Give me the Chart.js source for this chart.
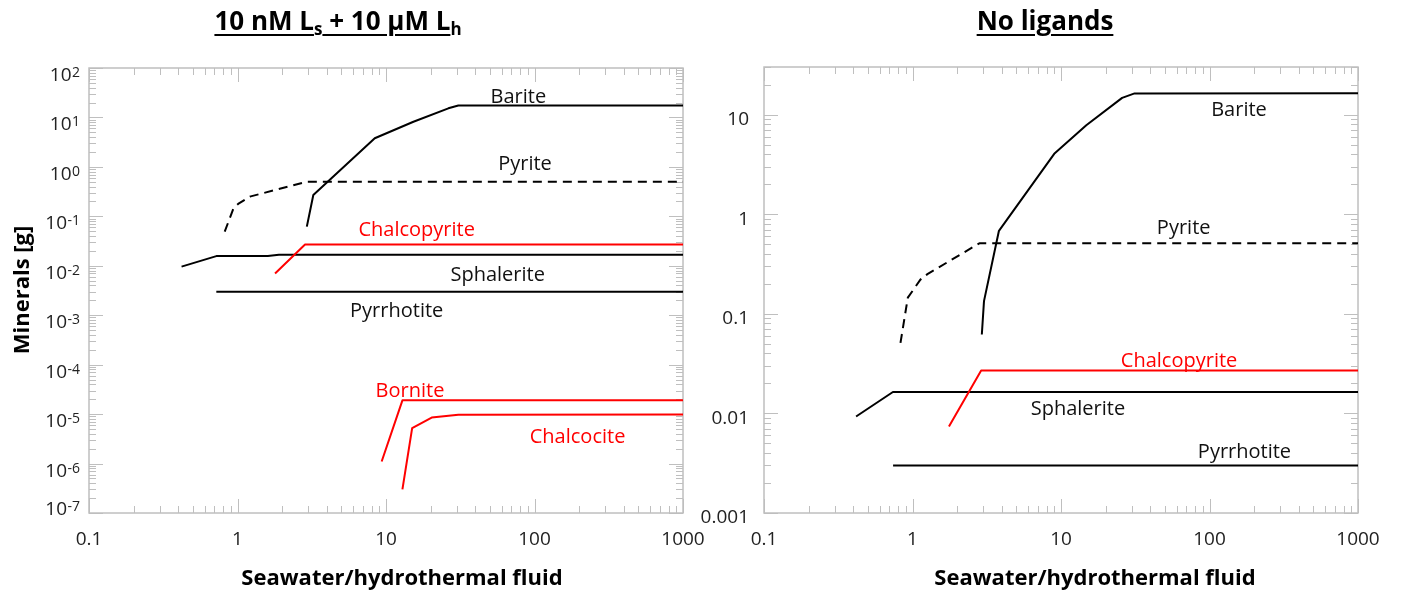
<!DOCTYPE html>
<html>
<head>
<meta charset="utf-8">
<script src="https://cdn.jsdelivr.net/npm/chart.js@4.4.1/dist/chart.umd.min.js"></script>
<style>
html,body{margin:0;padding:0;background:#fff;}
#wrap{position:relative;width:1406px;height:596px;overflow:hidden;background:#fff;}
canvas{position:absolute;left:0;top:0;}
.ptitle{position:absolute;top:7px;line-height:26px;font-family:'Open Sans',sans-serif;font-weight:700;font-size:26px;color:#000;
  text-decoration:underline;text-decoration-thickness:2px;text-underline-offset:4px;white-space:nowrap;transform:translateX(-50%);}
.ptitle sub{font-size:17px;vertical-align:-5px;line-height:0;}
</style>
</head>
<body>
<div id="wrap">
  <canvas id="c1" width="1406" height="596"></canvas>
  <canvas id="c2" width="1406" height="596"></canvas>
  <div class="ptitle" style="left:338px;">10 nM L<sub>s</sub> + 10 µM L<sub>h</sub></div>
  <div class="ptitle" style="left:1045px;">No ligands</div>
</div>
<script>
// ---------- DATA ----------
// Left panel: 10 nM Ls + 10 µM Lh
const leftBariteX        = [2.93, 3.24, 8.4, 15.3, 26.3, 30.7, 1000];
const leftBariteY        = [0.062, 0.27, 3.8, 8.2, 15.3, 17.4, 17.4];
const leftPyriteX        = [0.82, 0.94, 1.01, 1.21, 2.92, 1000];
const leftPyriteY        = [0.049, 0.145, 0.178, 0.25, 0.5, 0.5];
const leftChalcopyriteX  = [1.79, 2.85, 1000];
const leftChalcopyriteY  = [0.007, 0.027, 0.027];
const leftSphaleriteX    = [0.42, 0.72, 1.6, 1.9, 1000];
const leftSphaleriteY    = [0.0096, 0.0157, 0.0158, 0.0168, 0.0168];
const leftPyrrhotiteX    = [0.72, 1000];
const leftPyrrhotiteY    = [0.003, 0.003];
const leftBorniteX       = [9.35, 12.9, 1000];
const leftBorniteY       = [1.1e-6, 1.9e-5, 1.9e-5];
const leftChalcociteX    = [12.9, 15.0, 20.3, 30.7, 1000];
const leftChalcociteY    = [3.0e-7, 5.2e-6, 8.5e-6, 9.7e-6, 9.8e-6];

// Right panel: No ligands
const rightBariteX       = [2.93, 3.03, 3.82, 9.0, 14.8, 25.8, 31.3, 1000];
const rightBariteY       = [0.062, 0.134, 0.68, 4.03, 7.8, 14.7, 16.3, 16.4];
const rightPyriteX       = [0.83, 0.93, 1.13, 1.26, 2.82, 1000];
const rightPyriteY       = [0.051, 0.145, 0.22, 0.25, 0.51, 0.51];
const rightChalcopyriteX = [1.76, 2.9, 1000];
const rightChalcopyriteY = [0.0074, 0.027, 0.027];
const rightSphaleriteX   = [0.417, 0.738, 1000];
const rightSphaleriteY   = [0.0093, 0.0164, 0.0164];
const rightPyrrhotiteX   = [0.74, 1000];
const rightPyrrhotiteY   = [0.003, 0.003];

// Tick labels
const xTickValues      = [0.1, 1, 10, 100, 1000];
const xTickLabels      = ['0.1', '1', '10', '100', '1000'];
const leftYExponents   = [2, 1, 0, -1, -2, -3, -4, -5, -6, -7];
const rightYTickValues = [0.001, 0.01, 0.1, 1, 10];
const rightYTickLabels = ['0.001', '0.01', '0.1', '1', '10'];

// Axis titles
const xAxisTitle = 'Seawater/hydrothermal fluid';
const yAxisTitle = 'Minerals [g]';

// Curve labels (placed in data coordinates)
const leftLabelNames  = ['Barite', 'Pyrite', 'Chalcopyrite', 'Sphalerite', 'Pyrrhotite', 'Bornite', 'Chalcocite'];
const leftLabelX      = [77.8, 86.3, 16.1, 56.5, 11.8, 14.5, 195];
const leftLabelY      = [25.5, 1.14, 0.051, 0.0065, 0.00118, 2.84e-5, 3.39e-6];
const leftLabelRed    = [false, false, true, false, false, true, true];
const rightLabelNames = ['Barite', 'Pyrite', 'Chalcopyrite', 'Sphalerite', 'Pyrrhotite'];
const rightLabelX     = [158, 67, 62.4, 13.0, 172];
const rightLabelY     = [11.0, 0.72, 0.0334, 0.0109, 0.00408];
const rightLabelRed   = [false, false, true, false, false];

// ---------- STYLE ----------
const BLACK = '#000000';
const RED = '#ff0000';
const AXIS_GRAY = '#bfbfbf';
const FONT = '"Open Sans", "Liberation Sans", sans-serif';

function pts(xs, ys) { return xs.map((x, i) => ({ x: x, y: ys[i] })); }
function ds(xs, ys, color, dashed) {
  return {
    data: pts(xs, ys), borderColor: color, backgroundColor: color,
    borderWidth: 2, pointRadius: 0, tension: 0, fill: false,
    borderDash: dashed ? [9, 6] : [], borderCapStyle: 'butt', borderJoinStyle: 'round'
  };
}

// Frame + inward tick marks, curve labels, axis titles
const decorPlugin = {
  id: 'decor',
  beforeDatasetsDraw(chart) {
    const ctx = chart.ctx, a = chart.chartArea;
    const xs = chart.scales.x, ys = chart.scales.y;
    ctx.save();
    ctx.strokeStyle = AXIS_GRAY;
    ctx.lineWidth = 1;
    ctx.beginPath();
    const minorVals = (s) => {
      const out = [];
      for (let n = Math.floor(Math.log10(s.min)) - 1; n <= Math.ceil(Math.log10(s.max)); n++) {
        for (let k = 1; k <= 9; k++) {
          const v = k * Math.pow(10, n);
          if (v >= s.min * 0.9999 && v <= s.max * 1.0001) out.push({ v: v, major: k === 1 });
        }
      }
      return out;
    };
    minorVals(xs).forEach(t => {
      const px = Math.round(xs.getPixelForValue(t.v)) + 0.5;
      const len = t.major ? 14 : 7;
      ctx.moveTo(px, a.bottom); ctx.lineTo(px, a.bottom - len);
      ctx.moveTo(px, a.top); ctx.lineTo(px, a.top + len);
    });
    minorVals(ys).forEach(t => {
      const py = Math.round(ys.getPixelForValue(t.v)) + 0.5;
      const len = t.major ? 14 : 7;
      ctx.moveTo(a.left, py); ctx.lineTo(a.left + len, py);
      ctx.moveTo(a.right, py); ctx.lineTo(a.right - len, py);
    });
    ctx.stroke();
    ctx.lineWidth = 1.5;
    ctx.strokeRect(a.left, a.top, a.right - a.left, a.bottom - a.top);
    ctx.restore();
  },
  afterDraw(chart) {
    const o = chart.options.plugins.decor;
    const ctx = chart.ctx, xs = chart.scales.x, ys = chart.scales.y;
    ctx.save();
    // curve labels
    ctx.font = '20px ' + FONT;
    ctx.textAlign = 'center';
    ctx.textBaseline = 'middle';
    o.names.forEach((n, i) => {
      ctx.fillStyle = o.red[i] ? RED : '#111';
      ctx.fillText(n, xs.getPixelForValue(o.lx[i]), ys.getPixelForValue(o.ly[i]));
    });
    // x axis title
    ctx.fillStyle = '#000';
    ctx.font = 'bold 22px ' + FONT;
    ctx.fillText(xAxisTitle, o.xTitleX, o.xTitleY);
    // y axis title
    if (o.yTitle) {
      ctx.save();
      ctx.translate(o.yTitleX, o.yTitleY);
      ctx.rotate(-Math.PI / 2);
      ctx.fillText(yAxisTitle, 0, 0);
      ctx.restore();
    }
    // power-of-ten tick labels
    if (o.powerLabels) {
      const right = chart.chartArea.left - 9;
      leftYExponents.forEach(e => {
        let py = ys.getPixelForValue(Math.pow(10, e));
        if (e === leftYExponents[leftYExponents.length - 1]) py -= 11;
        const exp = String(e);
        ctx.textBaseline = 'alphabetic';
        ctx.fillStyle = '#222';
        ctx.font = '14px ' + FONT;
        const we = ctx.measureText(exp).width;
        ctx.textAlign = 'left';
        ctx.fillText(exp, right - we, py + 9);
        ctx.font = '19px ' + FONT;
        ctx.textAlign = 'right';
        ctx.fillText('10', right - we - 0.5, py + 13);
      });
    }
    ctx.restore();
  }
};

function xScale() {
  return {
    type: 'logarithmic', position: 'bottom', min: 0.1, max: 1000,
    grid: { display: false }, border: { display: false },
    afterBuildTicks: (s) => { s.ticks = xTickValues.map(v => ({ value: v })); },
    ticks: {
      autoSkip: false, maxRotation: 0, minRotation: 0, padding: 7,
      color: '#222', font: { family: FONT, size: 19 },
      callback: (v, i) => xTickLabels[i]
    },
    afterFit: (s) => { s.height = 83; s.paddingLeft = 0; s.paddingRight = 0; }
  };
}

Chart.defaults.animation = false;

// Left chart
new Chart(document.getElementById('c1'), {
  type: 'line',
  data: {
    datasets: [
      ds(leftBariteX, leftBariteY, BLACK, false),
      ds(leftPyriteX, leftPyriteY, BLACK, true),
      ds(leftChalcopyriteX, leftChalcopyriteY, RED, false),
      ds(leftSphaleriteX, leftSphaleriteY, BLACK, false),
      ds(leftPyrrhotiteX, leftPyrrhotiteY, BLACK, false),
      ds(leftBorniteX, leftBorniteY, RED, false),
      ds(leftChalcociteX, leftChalcociteY, RED, false)
    ]
  },
  options: {
    responsive: false, animation: false,
    layout: { padding: { left: 0, top: 68, right: 1406 - 683, bottom: 0 } },
    scales: {
      x: xScale(),
      y: {
        type: 'logarithmic', position: 'left', min: 1e-7, max: 100,
        grid: { display: false }, border: { display: false },
        ticks: { display: false },
        afterFit: (s) => { s.width = 89; s.paddingTop = 0; s.paddingBottom = 0; }
      }
    },
    plugins: {
      legend: { display: false }, tooltip: { enabled: false },
      decor: {
        names: leftLabelNames, lx: leftLabelX, ly: leftLabelY, red: leftLabelRed,
        xTitleX: 402, xTitleY: 579, yTitle: true, yTitleX: 23, yTitleY: 290, powerLabels: true
      }
    }
  },
  plugins: [decorPlugin]
});

// Right chart
new Chart(document.getElementById('c2'), {
  type: 'line',
  data: {
    datasets: [
      ds(rightBariteX, rightBariteY, BLACK, false),
      ds(rightPyriteX, rightPyriteY, BLACK, true),
      ds(rightChalcopyriteX, rightChalcopyriteY, RED, false),
      ds(rightSphaleriteX, rightSphaleriteY, BLACK, false),
      ds(rightPyrrhotiteX, rightPyrrhotiteY, BLACK, false)
    ]
  },
  options: {
    responsive: false, animation: false,
    layout: { padding: { left: 690, top: 67, right: 1406 - 1358, bottom: 0 } },
    scales: {
      x: xScale(),
      y: {
        type: 'logarithmic', position: 'left', min: 0.001, max: 30,
        grid: { display: false }, border: { display: false },
        afterBuildTicks: (s) => { s.ticks = rightYTickValues.map(v => ({ value: v })); },
        ticks: {
          autoSkip: false, padding: 7, labelOffset: 5,
          color: '#222', font: { family: FONT, size: 19 },
          callback: (v, i) => rightYTickLabels[i]
        },
        afterFit: (s) => { s.width = 74; s.paddingTop = 0; s.paddingBottom = 0; }
      }
    },
    plugins: {
      legend: { display: false }, tooltip: { enabled: false },
      decor: {
        names: rightLabelNames, lx: rightLabelX, ly: rightLabelY, red: rightLabelRed,
        xTitleX: 1095, xTitleY: 579, yTitle: false, powerLabels: false
      }
    }
  },
  plugins: [decorPlugin]
});
</script>
</body>
</html>
